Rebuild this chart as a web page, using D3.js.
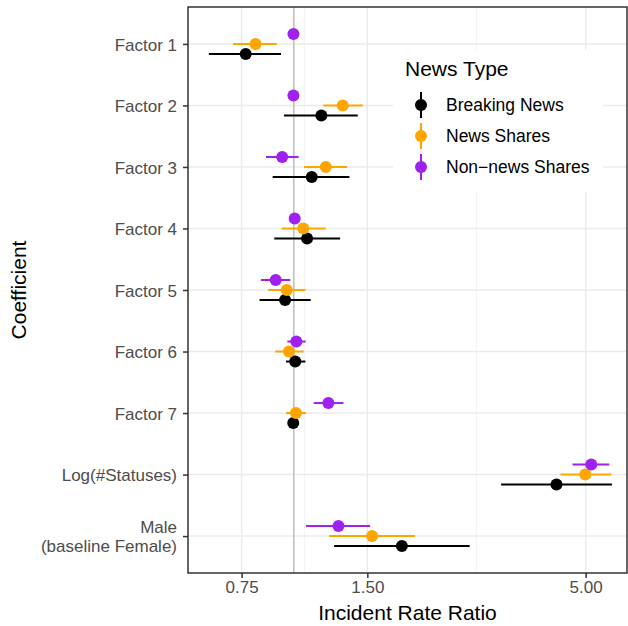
<!DOCTYPE html>
<html>
<head>
<meta charset="utf-8">
<script src="https://cdn.jsdelivr.net/npm/d3@7"></script>
<style>
  body { margin: 0; background: #fff; }
  text { font-family: "Liberation Sans", Arial, sans-serif; }
</style>
</head>
<body>
<svg id="chart" width="628" height="626"></svg>
<script>
// Coefficients (top to bottom)
const coefficients = ["Factor 1", "Factor 2", "Factor 3", "Factor 4", "Factor 5", "Factor 6", "Factor 7", "Log(#Statuses)", "Male\n(baseline Female)"];
const newsTypes = ["Breaking News", "News Shares", "Non-news Shares"];
const colors = ["#000000", "#FFA500", "#A020F0"];

// incident rate ratio estimates and CI, one array per news type, in coefficient order
const breakingEst = [0.767, 1.164, 1.104, 1.076, 0.953, 1.008, 0.997, 4.257, 1.815];
const breakingLo  = [0.626, 0.947, 0.890, 0.898, 0.828, 0.958, 0.985, 3.137, 1.249];
const breakingHi  = [0.932, 1.423, 1.359, 1.291, 1.098, 1.066, 1.010, 5.779, 2.637];

const newsEst = [0.810, 1.310, 1.193, 1.054, 0.962, 0.974, 1.012, 4.990, 1.540];
const newsLo  = [0.716, 1.177, 1.058, 0.935, 0.869, 0.903, 0.958, 4.352, 1.215];
const newsHi  = [0.910, 1.463, 1.342, 1.193, 1.066, 1.056, 1.070, 5.759, 1.950];

const nonNewsEst = [0.998, 0.998, 0.938, 1.005, 0.905, 1.014, 1.210, 5.157, 1.279];
const nonNewsLo  = [0.990, 0.990, 0.858, 0.995, 0.834, 0.965, 1.116, 4.651, 1.070];
const nonNewsHi  = [1.006, 1.006, 1.027, 1.015, 0.981, 1.068, 1.315, 5.696, 1.523];

const xTicks = [0.75, 1.5, 5];
const xMinor = [1.0607, 2.7386];

const series = [
  { name: newsTypes[0], color: colors[0], est: breakingEst, lo: breakingLo, hi: breakingHi, offset: 10 },
  { name: newsTypes[1], color: colors[1], est: newsEst, lo: newsLo, hi: newsHi, offset: 0 },
  { name: newsTypes[2], color: colors[2], est: nonNewsEst, lo: nonNewsLo, hi: nonNewsHi, offset: -10 }
];

const svg = d3.select("#chart");
const panel = { left: 188, right: 627, top: 7, bottom: 573 };

const x = d3.scaleLog().domain([0.558, 6.28]).range([panel.left, panel.right]);
const y = d3.scalePoint().domain(coefficients).range([panel.top, panel.bottom]).padding(0.6);

// grid
const grid = svg.append("g");
grid.selectAll(".minor").data(xMinor).enter().append("line")
  .attr("x1", d => x(d)).attr("x2", d => x(d))
  .attr("y1", panel.top).attr("y2", panel.bottom)
  .attr("stroke", "#f0f0f0").attr("stroke-width", 0.8);
grid.selectAll(".majorx").data(xTicks).enter().append("line")
  .attr("x1", d => x(d)).attr("x2", d => x(d))
  .attr("y1", panel.top).attr("y2", panel.bottom)
  .attr("stroke", "#ebebeb").attr("stroke-width", 1.5);
grid.selectAll(".majory").data(coefficients).enter().append("line")
  .attr("x1", panel.left).attr("x2", panel.right)
  .attr("y1", d => y(d)).attr("y2", d => y(d))
  .attr("stroke", "#ebebeb").attr("stroke-width", 1.5);

// reference line at 1
svg.append("line")
  .attr("x1", x(1)).attr("x2", x(1))
  .attr("y1", panel.top).attr("y2", panel.bottom)
  .attr("stroke", "#bebebe").attr("stroke-width", 1.5);

// point ranges
series.forEach(s => {
  const g = svg.append("g");
  g.selectAll("line").data(coefficients).enter().append("line")
    .attr("x1", (d, i) => x(s.lo[i])).attr("x2", (d, i) => x(s.hi[i]))
    .attr("y1", d => y(d) + s.offset).attr("y2", d => y(d) + s.offset)
    .attr("stroke", s.color).attr("stroke-width", 2);
  g.selectAll("circle").data(coefficients).enter().append("circle")
    .attr("cx", (d, i) => x(s.est[i])).attr("cy", d => y(d) + s.offset)
    .attr("r", 6).attr("fill", s.color);
});

// legend
const legend = svg.append("g");
legend.append("rect").attr("x", 393).attr("y", 50).attr("width", 210).attr("height", 142).attr("fill", "#fff");
legend.append("text").attr("x", 405).attr("y", 76).attr("font-size", 21).attr("fill", "#000").text("News Type");
series.forEach((s, i) => {
  const cy = 105 + i * 31;
  legend.append("line").attr("x1", 421).attr("x2", 421).attr("y1", cy - 13).attr("y2", cy + 13)
    .attr("stroke", s.color).attr("stroke-width", 2);
  legend.append("circle").attr("cx", 421).attr("cy", cy).attr("r", 6).attr("fill", s.color);
  legend.append("text").attr("x", 446).attr("y", cy).attr("dy", "0.36em")
    .attr("font-size", 17.5).attr("fill", "#000").text(s.name.replace("-", "\u2212"));
});

// panel border
svg.append("rect")
  .attr("x", panel.left).attr("y", panel.top)
  .attr("width", panel.right - panel.left).attr("height", panel.bottom - panel.top)
  .attr("fill", "none").attr("stroke", "#333").attr("stroke-width", 1.5);

// x axis
const xAxis = svg.append("g").attr("transform", `translate(0,${panel.bottom})`)
  .call(d3.axisBottom(x).tickValues(xTicks).tickFormat(d3.format(".2f")).tickSize(5).tickPadding(3));
xAxis.select(".domain").remove();
xAxis.selectAll("line").attr("stroke", "#333").attr("stroke-width", 1.5);
xAxis.selectAll("text").attr("font-size", 17).attr("fill", "#4d4d4d").attr("font-family", "Liberation Sans, Arial, sans-serif");

// y axis
const yAxis = svg.append("g").attr("transform", `translate(${panel.left},0)`)
  .call(d3.axisLeft(y).tickSize(5).tickFormat(""));
yAxis.select(".domain").remove();
yAxis.selectAll("line").attr("stroke", "#333").attr("stroke-width", 1.5);
yAxis.selectAll(".tick").each(function(d) {
  const lines = d.split("\n");
  const t = d3.select(this).append("text")
    .attr("x", -11).attr("text-anchor", "end").attr("font-size", 17).attr("fill", "#4d4d4d");
  lines.forEach((ln, k) => {
    t.append("tspan").attr("x", -11)
      .attr("dy", k === 0 ? (lines.length === 1 ? "0.36em" : "-0.19em") : "1.1em")
      .text(ln);
  });
});

// axis titles
svg.append("text").attr("x", (panel.left + panel.right) / 2).attr("y", 620)
  .attr("text-anchor", "middle").attr("font-size", 21).attr("fill", "#000").text("Incident Rate Ratio");
svg.append("text").attr("transform", `translate(26,${(panel.top + panel.bottom) / 2}) rotate(-90)`)
  .attr("text-anchor", "middle").attr("font-size", 21).attr("fill", "#000").text("Coefficient");
</script>
</body>
</html>
